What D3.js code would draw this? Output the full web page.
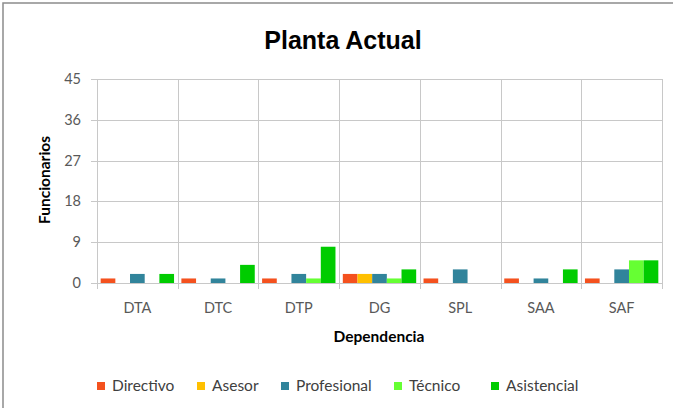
<!DOCTYPE html>
<meta charset="utf-8">
<style>
body { margin: 0; background: white; }
svg { display: block; }
.tick text { font: 14.5px Lato, "Open Sans", sans-serif; fill: #595959; }
.grid line { stroke: #c8c8c8; stroke-width: 1px; }
.axis-title { font: bold 15.5px Lato, "Open Sans", sans-serif; fill: #000; }
.legend text { font: 15.5px Lato, "Open Sans", sans-serif; fill: #404040; }
</style>
<svg></svg>
<script src="https://cdn.jsdelivr.net/npm/d3@7"></script>
<script>

var width = 673;
var height = 408;

var categories = ['DTA', 'DTC', 'DTP', 'DG', 'SPL', 'SAA', 'SAF'];
var seriesNames = ['Directivo', 'Asesor', 'Profesional', 'Técnico', 'Asistencial'];
var colors = ['#f4511e', '#ffc000', '#31849b', '#66ff33', '#00cc00'];
var directivo   = [1, 1, 1, 2, 1, 1, 1];
var asesor      = [0, 0, 0, 2, 0, 0, 0];
var profesional = [2, 1, 2, 2, 3, 1, 3];
var tecnico     = [0, 0, 1, 1, 0, 0, 5];
var asistencial = [2, 4, 8, 3, 0, 3, 5];
var yTicks = [0, 9, 18, 27, 36, 45];

var series = [directivo, asesor, profesional, tecnico, asistencial];

var margin = { left: 97, right: 11, top: 79, bottom: 125 };

var svg = d3.select('svg')
  .attr('width', width)
  .attr('height', height);

// chart frame (right and bottom edges fall outside the picture)
svg.append('rect')
  .attr('x', 3).attr('y', 3)
  .attr('width', width + 10).attr('height', height + 10)
  .attr('fill', 'none')
  .attr('stroke', '#8c8c8c')
  .attr('stroke-width', 1.5);

var x = d3.scaleBand()
  .domain(categories)
  .range([margin.left, width - margin.right]);

var x1 = d3.scaleBand()
  .domain(d3.range(seriesNames.length))
  .range([0, x.bandwidth()])
  .paddingOuter(0.25);

var y = d3.scaleLinear()
  .domain([0, 45])
  .range([height - margin.bottom, margin.top]);

// horizontal grid
svg.append('g')
  .attr('class', 'grid')
  .selectAll('line')
  .data(yTicks)
  .enter().append('line')
  .attr('x1', margin.left - 6)
  .attr('x2', width - margin.right)
  .attr('y1', function (d) { return Math.round(y(d)) + 0.5; })
  .attr('y2', function (d) { return Math.round(y(d)) + 0.5; });

// vertical grid between categories
var bounds = categories.map(function (c) { return x(c); }).concat([width - margin.right]);
svg.append('g')
  .attr('class', 'grid')
  .selectAll('line')
  .data(bounds)
  .enter().append('line')
  .attr('x1', function (d) { return Math.round(d) + 0.5; })
  .attr('x2', function (d) { return Math.round(d) + 0.5; })
  .attr('y1', margin.top)
  .attr('y2', y(0) + 6);

// y tick labels
svg.append('g')
  .attr('class', 'tick')
  .selectAll('text')
  .data(yTicks)
  .enter().append('text')
  .attr('x', margin.left - 16)
  .attr('y', function (d) { return y(d); })
  .attr('dy', '0.35em')
  .attr('text-anchor', 'end')
  .text(function (d) { return d; });

// x tick labels
svg.append('g')
  .attr('class', 'tick')
  .selectAll('text')
  .data(categories)
  .enter().append('text')
  .attr('x', function (d) { return x(d) + x.bandwidth() / 2; })
  .attr('y', y(0) + 30)
  .attr('text-anchor', 'middle')
  .text(function (d) { return d; });

// bars
var groups = svg.append('g')
  .selectAll('g')
  .data(series)
  .enter().append('g')
  .attr('fill', function (d, i) { return colors[i]; });

groups.each(function (values, si) {
  d3.select(this).selectAll('rect')
    .data(values)
    .enter().append('rect')
    .attr('x', function (d, ci) { return x(categories[ci]) + x1(si); })
    .attr('width', x1.bandwidth())
    .attr('y', function (d) { return y(d); })
    .attr('height', function (d) { return y(0) - y(d); });
});

// title
svg.append('text')
  .attr('x', 343)
  .attr('y', 49)
  .attr('text-anchor', 'middle')
  .style('font', 'bold 25px "Liberation Sans", Arial, sans-serif')
  .text('Planta Actual');

// axis titles
svg.append('text')
  .attr('class', 'axis-title')
  .attr('x', 379)
  .attr('y', 342)
  .attr('text-anchor', 'middle')
  .text('Dependencia');

svg.append('text')
  .attr('class', 'axis-title')
  .attr('transform', 'translate(50,' + 180 + ') rotate(-90)')
  .attr('text-anchor', 'middle')
  .text('Funcionarios');

// legend
var legendX = [97, 197, 281, 394, 491];
var legend = svg.append('g')
  .attr('class', 'legend')
  .selectAll('g')
  .data(seriesNames)
  .enter().append('g')
  .attr('transform', function (d, i) { return 'translate(' + legendX[i] + ',386)'; });

legend.append('rect')
  .attr('x', 0).attr('y', -4)
  .attr('width', 8).attr('height', 8)
  .attr('fill', function (d, i) { return colors[i]; });

legend.append('text')
  .attr('x', 15)
  .attr('dy', '0.35em')
  .text(function (d) { return d; });

</script>
